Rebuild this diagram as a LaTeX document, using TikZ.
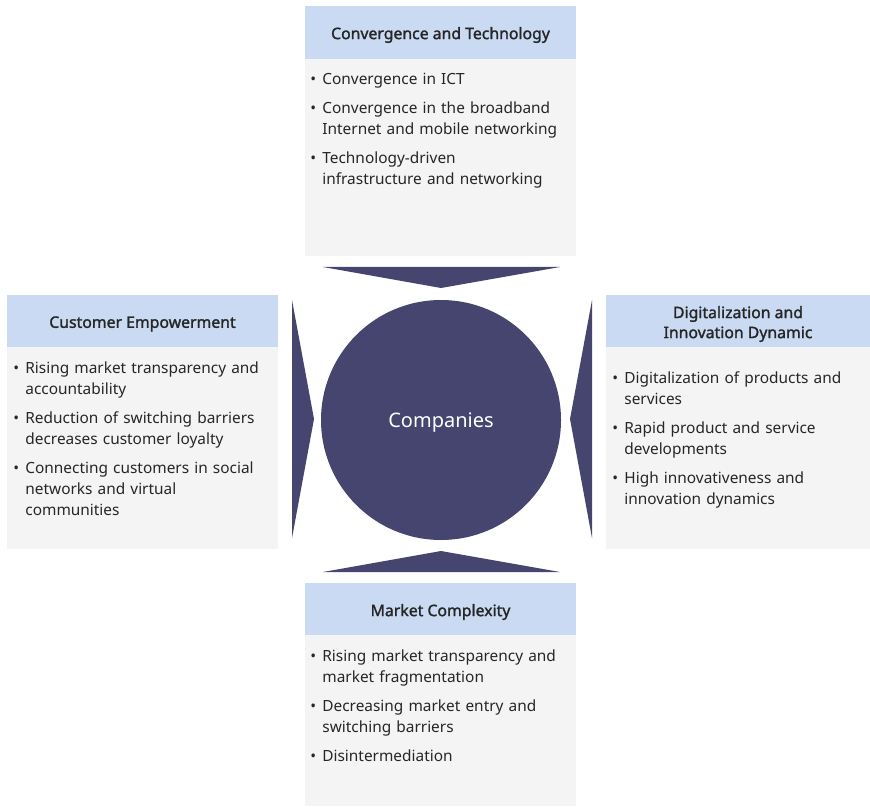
\documentclass[tikz,border=0pt]{standalone}
\usepackage{fontspec}
\setmainfont{Noto Sans}
\newfontfamily\headfont{Noto Sans}[FakeBold=1.6]
\usetikzlibrary{positioning}
\definecolor{navy}{HTML}{45456F}
\definecolor{headblue}{HTML}{C9DAF2}
\definecolor{bodygray}{HTML}{F4F4F4}
\definecolor{inkgray}{HTML}{262626}
\newcommand{\bitem}[1]{\hangindent=6pt\hangafter=1\noindent\makebox[6pt][l]{•}#1\par\vspace{4pt}}

\begin{document}
\begin{tikzpicture}[x=0.5pt,y=-0.5pt]
\tikzset{
  headbox/.style={fill=headblue},
  bodybox/.style={fill=bodygray},
  headtext/.style={font=\fontsize{7.9}{10}\headfont, text=inkgray, align=center, inner sep=0pt},
  itemtext/.style={font=\fontsize{7.7}{10.5}\selectfont, text=inkgray, text width=150pt, align=left, anchor=north west, inner sep=0pt},
  wedge/.style={fill=navy}
}
\useasboundingbox (0,0) rectangle (870,806);

% boxes
\fill[headbox] (305,6) rectangle (576,59);
\fill[bodybox] (305,59) rectangle (576,256);
\fill[headbox] (7,295) rectangle (278,347);
\fill[bodybox] (7,347) rectangle (278,549);
\fill[headbox] (606,295) rectangle (870,347);
\fill[bodybox] (606,347) rectangle (870,549);
\fill[headbox] (305,583) rectangle (576,635);
\fill[bodybox] (305,635) rectangle (576,806);

% wedges round the circle
\coordinate (T1) at (323,267);
\coordinate (T2) at (560,267);
\coordinate (T3) at (441,288);
\coordinate (B1) at (323,572);
\coordinate (B2) at (560,572);
\coordinate (B3) at (441,551);
\coordinate (L1) at (292,300);
\coordinate (L2) at (292,538);
\coordinate (L3) at (314,419);
\coordinate (R1) at (592,300);
\coordinate (R2) at (592,538);
\coordinate (R3) at (570,419);

\fill[wedge] (T1) -- (T2) -- (T3) -- cycle;
\fill[wedge] (B1) -- (B2) -- (B3) -- cycle;
\fill[wedge] (L1) -- (L2) -- (L3) -- cycle;
\fill[wedge] (R1) -- (R2) -- (R3) -- cycle;

\node[circle, fill=navy, minimum size=120pt, inner sep=0pt, text=white, text depth=0pt,
  font=\fontsize{10}{12}\selectfont] (comp) at (441,420) {Companies};

% headers
\node[headtext] (conv) at (440.5,35) {Convergence and Technology};
\node[headtext] (cust) at (142.5,324) {Customer Empowerment};
\node[headtext] (digi) at (738,324) {Digitalization and\\Innovation Dynamic};
\node[headtext] (mark) at (440.5,612) {Market Complexity};

% bullet lists
\node[itemtext] (convlist) at (310,73) {%
  \bitem{Convergence in ICT}
  \bitem{Convergence in the broadband\newline Internet and mobile networking}
  \bitem{Technology-driven\newline infrastructure and networking}};
\node[itemtext] (custlist) at (13,361) {%
  \bitem{Rising market transparency and\newline accountability}
  \bitem{Reduction of switching barriers\newline decreases customer loyalty}
  \bitem{Connecting customers in social\newline networks and virtual\newline communities}};
\node[itemtext] (digilist) at (612,371) {%
  \bitem{Digitalization of products and\newline services}
  \bitem{Rapid product and service\newline developments}
  \bitem{High innovativeness and\newline innovation dynamics}};
\node[itemtext] (marklist) at (310,649) {%
  \bitem{Rising market transparency and\newline market fragmentation}
  \bitem{Decreasing market entry and\newline switching barriers}
  \bitem{Disintermediation}};
\end{tikzpicture}
\end{document}
